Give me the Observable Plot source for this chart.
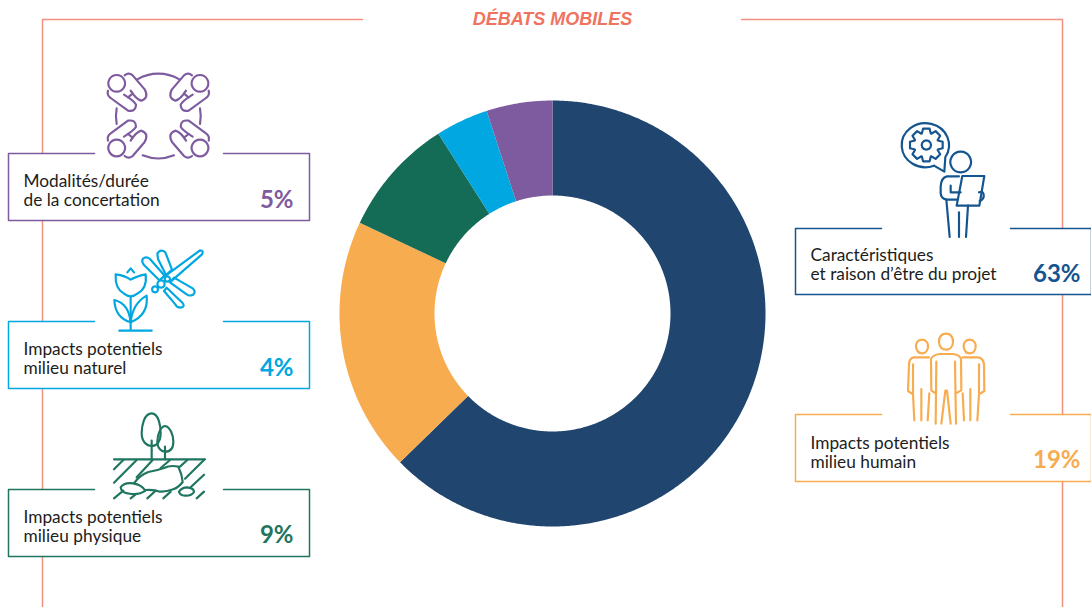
<!DOCTYPE html>
<html lang="fr">
<head>
<meta charset="utf-8">
<title>Débats mobiles</title>
<script src="https://cdn.jsdelivr.net/npm/d3@7"></script>
<script src="https://cdn.jsdelivr.net/npm/@observablehq/plot@0.6"></script>
<style>
html,body{margin:0;padding:0;background:#fff;overflow:hidden}
svg{display:block}
</style>
</head>
<body>
<script>
// ---- data
const title = "DÉBATS MOBILES";
const categories = ["Caractéristiques\net raison d’être du projet","Impacts potentiels\nmilieu humain","Impacts potentiels\nmilieu physique","Impacts potentiels\nmilieu naturel","Modalités/durée\nde la concertation"];
const shares = [63,19,9,4,5];                   // printed labels
const sliceValues = [62.7,19.3,9,4,5];          // slice sizes
const sliceColors = ["#20456f","#f8ac50","#146b56","#00a7e1","#7e5b9f"];
const accentColors = ["#15558f","#f8ac50","#1f7560","#00a7e1","#7e5b9f"];

// ---- layout (page coordinates)
const W = 1091, H = 607;
const center = [552,313], rOuter = 213, rInner = 118;
const boxX = [[795,1091],[795,1091],[8,309],[8,309],[8,309]];
const boxY = [[228,294],[414,481],[489,556],[321,388],[153,220]];
const gapX = [[881,1010],[881,1010],[94,223],[94,223],[94,223]];
const labelX = [810,810,23,23,23];
const labelY = [264,452,526,358,190];
const pctX = [1080,1080,293,293,293];
const pctY = [274,460,535,368,200];
const frameSalmon = "#f1907f";

// ---- donut outlines from the slice sizes
const pie = d3.pie().sort(null)(sliceValues);
const slicePts = pie.flatMap((a,i)=>{
  const pts=[], n=Math.max(4,Math.ceil((a.endAngle-a.startAngle)*180/Math.PI*2));
  const at=(t,r)=>({i,x:center[0]+r*Math.sin(t),y:center[1]-r*Math.cos(t)});
  for(let k=0;k<=n;k++) pts.push(at(a.startAngle+(a.endAngle-a.startAngle)*k/n,rOuter));
  for(let k=n;k>=0;k--) pts.push(at(a.startAngle+(a.endAngle-a.startAngle)*k/n,rInner));
  pts.push(pts[0]);
  return pts;
});

// ---- box outlines, open above the icon
const boxPts = categories.flatMap((_,i)=>{
  const [x1,x2]=boxX[i],[y1,y2]=boxY[i],[g1,g2]=gapX[i];
  return [[g2,y1],[x2,y1],[x2,y2],[x1,y2],[x1,y1],[g1,y1]].map(([x,y])=>({i,x,y}));
});
const boxRects = categories.map((_,i)=>({i,x1:boxX[i][0],x2:boxX[i][1],y1:boxY[i][0],y2:boxY[i][1]}));
const frame = [
  [{x:362,y:19},{x:42,y:19},{x:42,y:607}],
  [{x:741,y:19},{x:1062,y:19},{x:1062,y:607}]
].flatMap((p,z)=>p.map(d=>({...d,z})));
const labels = categories.map((t,i)=>({t,x:labelX[i],y:labelY[i]}));
const pcts = shares.map((v,i)=>({t:v+"%",x:pctX[i],y:pctY[i],i}));

// ---- pictograms (paths in 3x crop space)
function gearPath(cx,cy,ro,ri,n){
  let s="";
  for(let k=0;k<n;k++){
    const a=k/n*2*Math.PI,w=Math.PI/n;
    const p=(t,r)=>`${(cx+r*Math.cos(t)).toFixed(1)} ${(cy+r*Math.sin(t)).toFixed(1)}`;
    s+=(k?"L":"M")+p(a-w*.95,ri)+"L"+p(a-w*.5,ro)+"L"+p(a+w*.5,ro)+"L"+p(a+w*.95,ri);
  }
  return s+"Z";
}
const personTL = [
  "M350 45a25 25 0 1 0 .1 0Z",
  "M374 46Q386 36 398 46L434 88Q448 114 424 122Q408 118 392 92",
  "M324 92Q320 106 332 114L384 152Q408 156 408 134Q404 124 372 104",
  "M384 112L398 101"
];
const tableCx=475, tableCy=167;
const iconDefs = [
  {o:[0,60],c:4,paths:[
    "M412 58A125 125 0 0 1 538 58","M350 145A125 125 0 0 0 350 192","M600 145A125 125 0 0 1 600 192","M428 286A125 125 0 0 0 522 286",
    ...personTL.map(d=>({d,t:""})),
    ...personTL.map(d=>({d,t:`translate(${2*tableCx},0) scale(-1,1)`})),
    ...personTL.map(d=>({d,t:`translate(0,${2*tableCy}) scale(1,-1)`})),
    ...personTL.map(d=>({d,t:`translate(${2*tableCx},${2*tableCy}) scale(-1,-1)`}))
  ]},
  {o:[0,235],c:3,paths:[
    "M382 112L392 100L402 112",
    "M347 118Q376 122 392 134Q408 124 437 118Q442 160 412 176Q392 192 372 176Q344 160 347 118Z",
    "M392 186V285","M358 287H455",
    "M392 262Q345 248 343 195Q386 205 392 262Z","M392 262Q398 205 440 182Q446 240 392 262Z",
    "M497 122L600 46Q612 46 606 58L512 140",
    "M428 72Q438 62 450 72L494 122L478 136L432 90Q424 80 428 72Z",
    "M472 56Q482 40 496 52L516 104L498 120L474 72Z",
    "M522 128L578 160Q590 172 578 180Q566 184 560 178L510 142Z",
    "M500 158L548 204Q556 216 542 218Q530 218 526 208L492 168Z",
    "M483 136a11 11 0 1 0 .1 0Z","M465 154a9 9 0 1 0 .1 0Z","M502 124a8 8 0 1 0 .1 0Z"
  ]},
  {o:[0,400],c:2,paths:[
    "M455 40C432 40 425 78 425 100C425 125 440 138 455 138C470 138 482 125 482 100C482 78 476 40 455 40Z",
    "M455 122V178",
    "M495 78C480 80 472 108 472 125C472 145 485 155 495 155C510 155 520 145 520 125C520 105 510 80 495 78Z",
    "M495 140V178","M342 178H615",
    "M342 208L370 180","M342 248L410 180","M410 232L458 180","M482 204L510 180","M540 200L562 180","M555 236L612 180","M572 262L612 224","M590 295L612 275",
    "M342 295L370 272","M392 295L406 284","M442 295L466 273","M490 295L512 275",
    "M402 250Q418 226 445 216Q470 212 490 205Q512 194 535 200Q546 222 548 246Q536 262 520 268Q498 276 480 275Q462 268 436 270",
    "M362 262Q372 246 400 250Q425 254 436 272Q420 284 395 282Q362 280 362 262Z",
    "M537 275Q545 262 562 262Q582 264 582 276Q575 288 555 287Q540 286 537 275Z"
  ]},
  {o:[785,115],c:0,paths:[
    "M447 152A71 66 0 1 1 481 126L478 170L447 152",
    gearPath(424,90,50,37,8),
    "M424 76a14 14 0 1 0 .1 0Z",
    "M527 110a31 31 0 1 0 .1 0Z",
    "M522 184H486Q468 188 467 215V235Q468 250 484 254L516 254",
    "M497 212V232H527",
    "M532 183H598L583 272H515Z",
    "M582 232Q598 226 596 246Q592 256 584 258",
    "M484 254L494 366","M522 292V366","M549 272L543 366"
  ]},
  {o:[785,325],c:1,paths:[
    "M483 26C468 26 461 38 462 52C464 66 472 74 483 74C494 74 503 66 504 52C505 38 498 26 483 26Z",
    "M452 205L439 196L438 102Q442 90 465 87H503Q526 90 528 102L529 196L512 205",
    "M454 110L452 296","M510 110L513 296","M469 296L481 197H486L497 296",
    "M411 44C398 44 392 54 393 66C395 78 402 85 411 85C420 85 428 78 429 66C430 54 424 44 411 44Z",
    "M432 97H386Q372 100 372 120L369 198L384 208L388 286","M384 118V205","M409 192V286","M433 205L428 286",
    "M554 44C541 44 535 54 536 66C538 78 545 85 554 85C563 85 571 78 572 66C573 54 567 44 554 44Z",
    "M533 97H580Q596 100 597 120L598 198L582 208L577 286","M582 118V205","M556 192V286","M533 205L537 286"
  ]}
];
const icons = () => {
  const g = d3.create("svg:g").attr("fill","none").attr("stroke-linecap","round").attr("stroke-linejoin","round");
  for (const ic of iconDefs) {
    const s = g.append("g").attr("transform",`translate(${ic.o[0]},${ic.o[1]}) scale(${1/3})`)
      .attr("stroke",accentColors[ic.c]).attr("stroke-width",6.5);
    for (const p of ic.paths) {
      const path = s.append("path").attr("d",typeof p==="string"?p:p.d);
      if (p.t) path.attr("transform",p.t);
    }
  }
  return g.node();
};

// ---- chart
const chart = Plot.plot({
  width:W, height:H, margin:0,
  style:{background:"#fff",overflow:"hidden"},
  x:{domain:[0,W],range:[0,W],axis:null},
  y:{domain:[0,H],range:[0,H],axis:null},
  marks:[
    Plot.line(frame,{x:"x",y:"y",z:"z",stroke:frameSalmon,strokeWidth:1.5}),
    Plot.text([title],{x:()=>552,y:()=>19,text:d=>d,fill:"#f0735f",fontSize:18,fontWeight:700,fontStyle:"italic",fontFamily:"Liberation Sans",textAnchor:"middle"}),
    Plot.line(slicePts,{x:"x",y:"y",z:"i",fill:d=>sliceColors[d.i],stroke:"none"}),
    Plot.rect(boxRects,{x1:"x1",x2:"x2",y1:"y1",y2:"y2",fill:"#fff"}),
    Plot.line(boxPts,{x:"x",y:"y",z:"i",stroke:d=>accentColors[d.i],strokeWidth:1.5}),
    icons,
    Plot.text(labels,{x:"x",y:"y",text:"t",textAnchor:"start",lineAnchor:"middle",lineHeight:1.1,fontSize:17.3,fontFamily:"Lato",fill:"#1d1d1b"}),
    Plot.text(pcts,{x:"x",y:"y",text:"t",textAnchor:"end",lineAnchor:"middle",fontSize:24,fontWeight:700,fontFamily:"Lato",fill:d=>accentColors[d.i]})
  ]
});
document.body.append(chart);
</script>
</body>
</html>
